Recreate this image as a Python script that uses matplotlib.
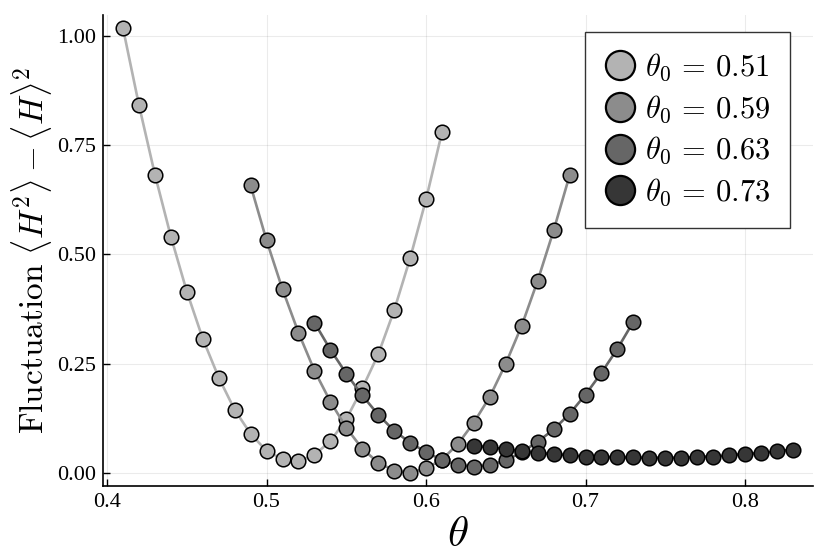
import numpy as np
import matplotlib
matplotlib.use("Agg")
import matplotlib.pyplot as plt

plt.rcParams['font.family'] = ['Liberation Serif', 'DejaVu Serif']
plt.rcParams['mathtext.fontset'] = 'cm'

# theta grids for each run
theta_051 = [0.41, 0.42, 0.43, 0.44, 0.45, 0.46, 0.47, 0.48, 0.49, 0.50, 0.51,
             0.52, 0.53, 0.54, 0.55, 0.56, 0.57, 0.58, 0.59, 0.60, 0.61]
theta_059 = [0.49, 0.50, 0.51, 0.52, 0.53, 0.54, 0.55, 0.56, 0.57, 0.58, 0.59,
             0.60, 0.61, 0.62, 0.63, 0.64, 0.65, 0.66, 0.67, 0.68, 0.69]
theta_063 = [0.53, 0.54, 0.55, 0.56, 0.57, 0.58, 0.59, 0.60, 0.61, 0.62, 0.63,
             0.64, 0.65, 0.66, 0.67, 0.68, 0.69, 0.70, 0.71, 0.72, 0.73]
theta_073 = [0.63, 0.64, 0.65, 0.66, 0.67, 0.68, 0.69, 0.70, 0.71, 0.72, 0.73,
             0.74, 0.75, 0.76, 0.77, 0.78, 0.79, 0.80, 0.81, 0.82, 0.83]

# fluctuation <H^2> - <H>^2
fluct_051 = [1.018, 0.842, 0.683, 0.541, 0.415, 0.307, 0.218, 0.144, 0.089, 0.050, 0.031,
             0.026, 0.041, 0.072, 0.123, 0.193, 0.271, 0.372, 0.491, 0.626, 0.780]
fluct_059 = [0.658, 0.532, 0.420, 0.321, 0.234, 0.163, 0.103, 0.055, 0.023, 0.005, 0.000,
             0.010, 0.030, 0.066, 0.115, 0.174, 0.250, 0.337, 0.440, 0.555, 0.681]
fluct_063 = [0.344, 0.282, 0.227, 0.177, 0.133, 0.096, 0.069, 0.047, 0.029, 0.018, 0.014,
             0.018, 0.028, 0.047, 0.071, 0.099, 0.135, 0.179, 0.229, 0.284, 0.346]
fluct_073 = [0.062, 0.058, 0.054, 0.050, 0.045, 0.043, 0.040, 0.037, 0.036, 0.035, 0.035,
             0.034, 0.034, 0.034, 0.036, 0.037, 0.040, 0.043, 0.045, 0.049, 0.053]

theta0 = ['0.51', '0.59', '0.63', '0.73']
colors = ['#b3b3b3', '#8c8c8c', '#666666', '#363636']
runs = [(theta_051, fluct_051), (theta_059, fluct_059),
        (theta_063, fluct_063), (theta_073, fluct_073)]

fig = plt.figure(figsize=(8.3, 5.54), dpi=100)
ax = fig.add_axes([0.124, 0.1227, 0.8555, 0.8503])

for (x, y), t0, c in zip(runs, theta0, colors):
    ax.plot(x, y, '-o', color=c, lw=1.9, ms=10.5, mfc=c, mec='black', mew=1.1,
            label=r'$\theta_0 \,=\, %s$' % t0)

ax.set_xlim(0.3974, 0.8426)
ax.set_ylim(-0.0305, 1.0485)
ax.set_xticks([0.4, 0.5, 0.6, 0.7, 0.8])
ax.set_xticklabels(['0.4', '0.5', '0.6', '0.7', '0.8'])
ax.set_yticks([0.0, 0.25, 0.5, 0.75, 1.0])
ax.set_yticklabels(['0.00', '0.25', '0.50', '0.75', '1.00'])
ax.tick_params(direction='in', length=5, width=1, labelsize=16, pad=5)
ax.grid(True, color='black', alpha=0.08, lw=0.8)
ax.spines['top'].set_visible(False)
ax.spines['right'].set_visible(False)
ax.spines['left'].set_linewidth(1.2)
ax.spines['bottom'].set_linewidth(1.2)

ax.set_xlabel(r'$\theta$', fontsize=31, labelpad=3)
ax.set_ylabel(r'$\mathrm{Fluctuation}\ \langle H^2\rangle - \langle H\rangle^2$',
              fontsize=24, labelpad=2)

leg = ax.legend(loc='upper right', bbox_to_anchor=(0.9676, 0.9639), borderaxespad=0,
                fontsize=22, markerscale=2.0, handlelength=1.0, handletextpad=0.3,
                labelspacing=0.33, borderpad=0.65, fancybox=False, framealpha=1)
leg.get_frame().set_edgecolor('#333333')
leg.get_frame().set_linewidth(1.0)
for h in leg.legend_handles:
    h.set_linestyle('None')
    h.set_markeredgewidth(1.6)

fig.savefig('out.png', dpi=100)
